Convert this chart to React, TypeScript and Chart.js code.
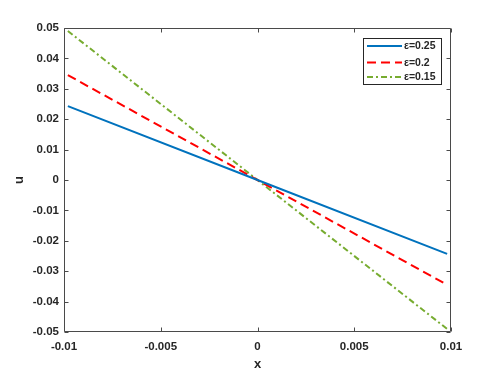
import React, { useEffect, useRef } from "react";
import { Chart, registerables } from "chart.js";

Chart.register(...registerables);

// ---- data ----
const xValues = [-0.0098, 0, 0.0098];
const uEps025 = [0.0243, 0, -0.0243];
const uEps020 = [0.0345, 0, -0.0345];
const uEps015 = [0.049, 0, -0.049];
const seriesLabels = ["ε=0.25", "ε=0.2", "ε=0.15"];
const xTickValues = [-0.01, -0.005, 0, 0.005, 0.01];
const yTickValues = [-0.05, -0.04, -0.03, -0.02, -0.01, 0, 0.01, 0.02, 0.03, 0.04, 0.05];
const xTitle = "x";
const yTitle = "u";

const FONT = "'Liberation Sans', Arial, Helvetica, sans-serif";
const AXIS_COLOR = "#262626";
const FRAME_COLOR = "#4a4a4a";

const fmt = (v: number) => {
  const r = Math.round(v * 100000) / 100000;
  return r === 0 ? "0" : String(r);
};

const framePlugin = {
  id: "matlabFrame",
  afterDraw(chart: any) {
    const { ctx, chartArea } = chart;
    const { left, right, top, bottom } = chartArea;
    const xs = chart.scales.x;
    const ys = chart.scales.y;
    const L = Math.round(left) + 0.5;
    const R = Math.round(right) - 0.5;
    const T = Math.round(top) + 0.5;
    const B = Math.round(bottom) - 0.5;
    const tl = 4;
    ctx.save();
    ctx.strokeStyle = FRAME_COLOR;
    ctx.lineWidth = 1;
    ctx.beginPath();
    ctx.rect(L, T, R - L, B - T);
    // ticks
    xTickValues.forEach((v) => {
      const px = Math.round(xs.getPixelForValue(v)) + 0.5;
      ctx.moveTo(px, B);
      ctx.lineTo(px, B - tl);
      ctx.moveTo(px, T);
      ctx.lineTo(px, T + tl);
    });
    yTickValues.forEach((v) => {
      const py = Math.round(ys.getPixelForValue(v)) + 0.5;
      ctx.moveTo(L, py);
      ctx.lineTo(L + tl, py);
      ctx.moveTo(R, py);
      ctx.lineTo(R - tl, py);
    });
    ctx.stroke();

    // legend
    const bx = 363.5, by = 38.5, bw = 78, bh = 46;
    ctx.fillStyle = "#ffffff";
    ctx.fillRect(bx, by, bw, bh);
    ctx.strokeStyle = AXIS_COLOR;
    ctx.lineWidth = 1;
    ctx.strokeRect(bx, by, bw, bh);
    const rows = [46, 62.5, 77];
    chart.data.datasets.forEach((ds: any, i: number) => {
      const y = rows[i];
      ctx.save();
      ctx.strokeStyle = ds.borderColor;
      ctx.lineWidth = ds.borderWidth;
      ctx.setLineDash(ds.borderDash || []);
      ctx.beginPath();
      ctx.moveTo(367, y);
      ctx.lineTo(402, y);
      ctx.stroke();
      ctx.restore();
      ctx.fillStyle = AXIS_COLOR;
      ctx.font = `bold 10.5px ${FONT}`;
      ctx.textBaseline = "middle";
      ctx.textAlign = "left";
      ctx.fillText(ds.label, 404, y + 0.5);
    });
    ctx.restore();
  },
};

export default function App() {
  const ref = useRef<HTMLCanvasElement | null>(null);
  useEffect(() => {
    if (!ref.current) return;
    const mk = (ys: number[]) => xValues.map((x, i) => ({ x, y: ys[i] }));
    const chart = new Chart(ref.current, {
      type: "scatter",
      data: {
        datasets: [
          {
            label: seriesLabels[0],
            data: mk(uEps025),
            showLine: true,
            borderColor: "#0072BD",
            borderWidth: 2,
            pointRadius: 0,
          },
          {
            label: seriesLabels[1],
            data: mk(uEps020),
            showLine: true,
            borderColor: "#FF0000",
            borderWidth: 2,
            borderDash: [9, 5],
            pointRadius: 0,
          },
          {
            label: seriesLabels[2],
            data: mk(uEps015),
            showLine: true,
            borderColor: "#77AC30",
            borderWidth: 2,
            borderDash: [6, 3, 2, 3],
            pointRadius: 0,
          },
        ] as any,
      },
      options: {
        responsive: false,
        animation: false,
        devicePixelRatio: 1,
        layout: { padding: { top: 28, right: 47, left: 0, bottom: 0 } },
        plugins: { legend: { display: false }, tooltip: { enabled: false } },
        scales: {
          x: {
            type: "linear",
            min: -0.01,
            max: 0.01,
            afterBuildTicks: (s: any) => {
              s.ticks = xTickValues.map((v) => ({ value: v }));
            },
            afterFit: (s: any) => {
              s.height = 42;
            },
            grid: { display: false, drawTicks: false },
            border: { display: false },
            ticks: {
              padding: 8,
              color: AXIS_COLOR,
              maxRotation: 0,
              autoSkip: false,
              font: { family: FONT, size: 11.5, weight: "bold" },
              callback: (v: any) => fmt(Number(v)),
            },
            title: {
              display: true,
              text: xTitle,
              color: AXIS_COLOR,
              font: { family: FONT, size: 13, weight: "bold" },
              padding: { top: 0, bottom: 2 },
            },
          },
          y: {
            type: "linear",
            min: -0.05,
            max: 0.05,
            afterBuildTicks: (s: any) => {
              s.ticks = yTickValues.map((v) => ({ value: v }));
            },
            afterFit: (s: any) => {
              s.width = 64;
            },
            grid: { display: false, drawTicks: false },
            border: { display: false },
            ticks: {
              padding: 5,
              color: AXIS_COLOR,
              autoSkip: false,
              font: { family: FONT, size: 11.5, weight: "bold" },
              callback: (v: any) => fmt(Number(v)),
            },
            title: {
              display: true,
              text: yTitle,
              color: AXIS_COLOR,
              font: { family: FONT, size: 13, weight: "bold" },
              padding: { top: 12, bottom: 0 },
            },
          },
        },
      } as any,
      plugins: [framePlugin],
    });
    return () => chart.destroy();
  }, []);
  return (
    <div style={{ position: "absolute", left: 0, top: 0, width: 498, height: 374, background: "#fff" }}>
      <canvas ref={ref} width={498} height={374} style={{ width: 498, height: 374, display: "block" }} />
    </div>
  );
}
